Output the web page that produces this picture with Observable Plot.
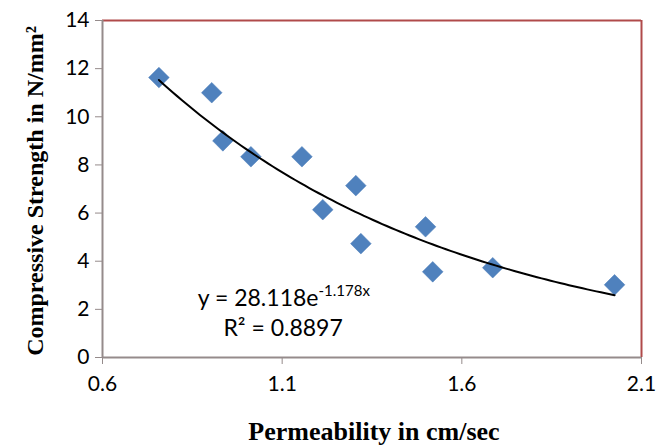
<!DOCTYPE html>
<html>
<head>
<meta charset="utf-8">
<script src="https://cdn.jsdelivr.net/npm/d3@7"></script>
<script src="https://cdn.jsdelivr.net/npm/@observablehq/plot@0.6"></script>
<style>
  html, body { margin: 0; padding: 0; background: #fff; }
  #chart svg { display: block; }
</style>
</head>
<body>
<div id="chart"></div>
<script>
// Data
const permeability = [0.757, 0.904, 0.935, 1.013, 1.155, 1.213, 1.305, 1.319, 1.499, 1.519, 1.686, 2.025];
const strength     = [11.63, 11.0, 9.0, 8.34, 8.34, 6.14, 7.14, 4.73, 5.43, 3.56, 3.73, 3.02];
const xTicks = [0.6, 1.1, 1.6, 2.1];
const yTicks = [0, 2, 4, 6, 8, 10, 12, 14];
// Exponential trendline shown on the chart: y = a * e^(b x)
const trendCoef = [28.118, -1.178];
const r2Label = "0.8897";

const points = permeability.map((x, i) => ({x, y: strength[i]}));
const xMin = d3.min(permeability), xMax = d3.max(permeability);
const trend = d3.range(0, 101).map(i => {
  const x = xMin + (xMax - xMin) * i / 100;
  return {x, y: trendCoef[0] * Math.exp(trendCoef[1] * x)};
});

const axisColor = "#958b8b";
const frameColor = "#b04a4a";
const tickFont = "Lato, 'Open Sans', sans-serif";
const labelFont = "'Liberation Serif', 'DejaVu Serif', serif";

const plot = Plot.plot({
  width: 656,
  height: 446,
  marginLeft: 102,
  marginRight: 15,
  marginTop: 20,
  marginBottom: 89,
  style: {fontFamily: tickFont, fontSize: "21px", color: "#000", background: "#fff"},
  x: {domain: [0.6, 2.1], ticks: xTicks, tickFormat: d => d.toFixed(1), label: null},
  y: {domain: [0, 14], ticks: yTicks, label: null},
  marks: [
    Plot.ruleY([14], {stroke: frameColor, strokeWidth: 2}),
    Plot.ruleX([2.1], {stroke: frameColor, strokeWidth: 2}),
    Plot.axisY({ticks: yTicks, tickSize: 7, tickPadding: 6, stroke: axisColor, fontSize: 21, label: null}),
    Plot.axisX({ticks: xTicks, tickSize: 7, tickPadding: 12, stroke: axisColor, fontSize: 21, tickFormat: d => d.toFixed(1), label: null}),
    Plot.ruleX([0.6], {stroke: axisColor, strokeWidth: 2}),
    Plot.ruleY([0], {stroke: axisColor, strokeWidth: 2}),
    Plot.dot(points, {x: "x", y: "y", symbol: "diamond2", r: 9.3, fill: "#4f81bd", stroke: "#4a7cb8", strokeWidth: 0.5}),
    Plot.line(trend, {x: "x", y: "y", stroke: "#000", strokeWidth: 2})
  ]
});

document.getElementById("chart").appendChild(plot);

// Annotations (equation and R^2), axis titles
const svg = d3.select(plot);
const sx = plot.scale("x"), sy = plot.scale("y");

const eq = svg.append("text")
  .attr("x", sx.apply(1.106)).attr("y", sy.apply(2.11))
  .attr("text-anchor", "middle")
  .attr("font-family", tickFont).attr("font-size", 23).attr("fill", "#000");
eq.append("tspan").text(`y = ${trendCoef[0].toFixed(3)}e`);
eq.append("tspan").attr("font-size", 15).attr("dy", -10).text(`${trendCoef[1]}x`);

svg.append("text")
  .attr("x", sx.apply(1.104)).attr("y", sy.apply(0.86))
  .attr("text-anchor", "middle")
  .attr("font-family", tickFont).attr("font-size", 23).attr("fill", "#000")
  .text(`R² = ${r2Label}`);

svg.append("text")
  .attr("x", 374).attr("y", 440)
  .attr("text-anchor", "middle")
  .attr("font-family", labelFont).attr("font-weight", "bold").attr("font-size", 26).attr("fill", "#000")
  .text("Permeability in cm/sec");

svg.append("text")
  .attr("transform", `translate(43,191) rotate(-90)`)
  .attr("text-anchor", "middle")
  .attr("font-family", labelFont).attr("font-weight", "bold").attr("font-size", 24).attr("fill", "#000")
  .text("Compressive Strength in N/mm²");
</script>
</body>
</html>
